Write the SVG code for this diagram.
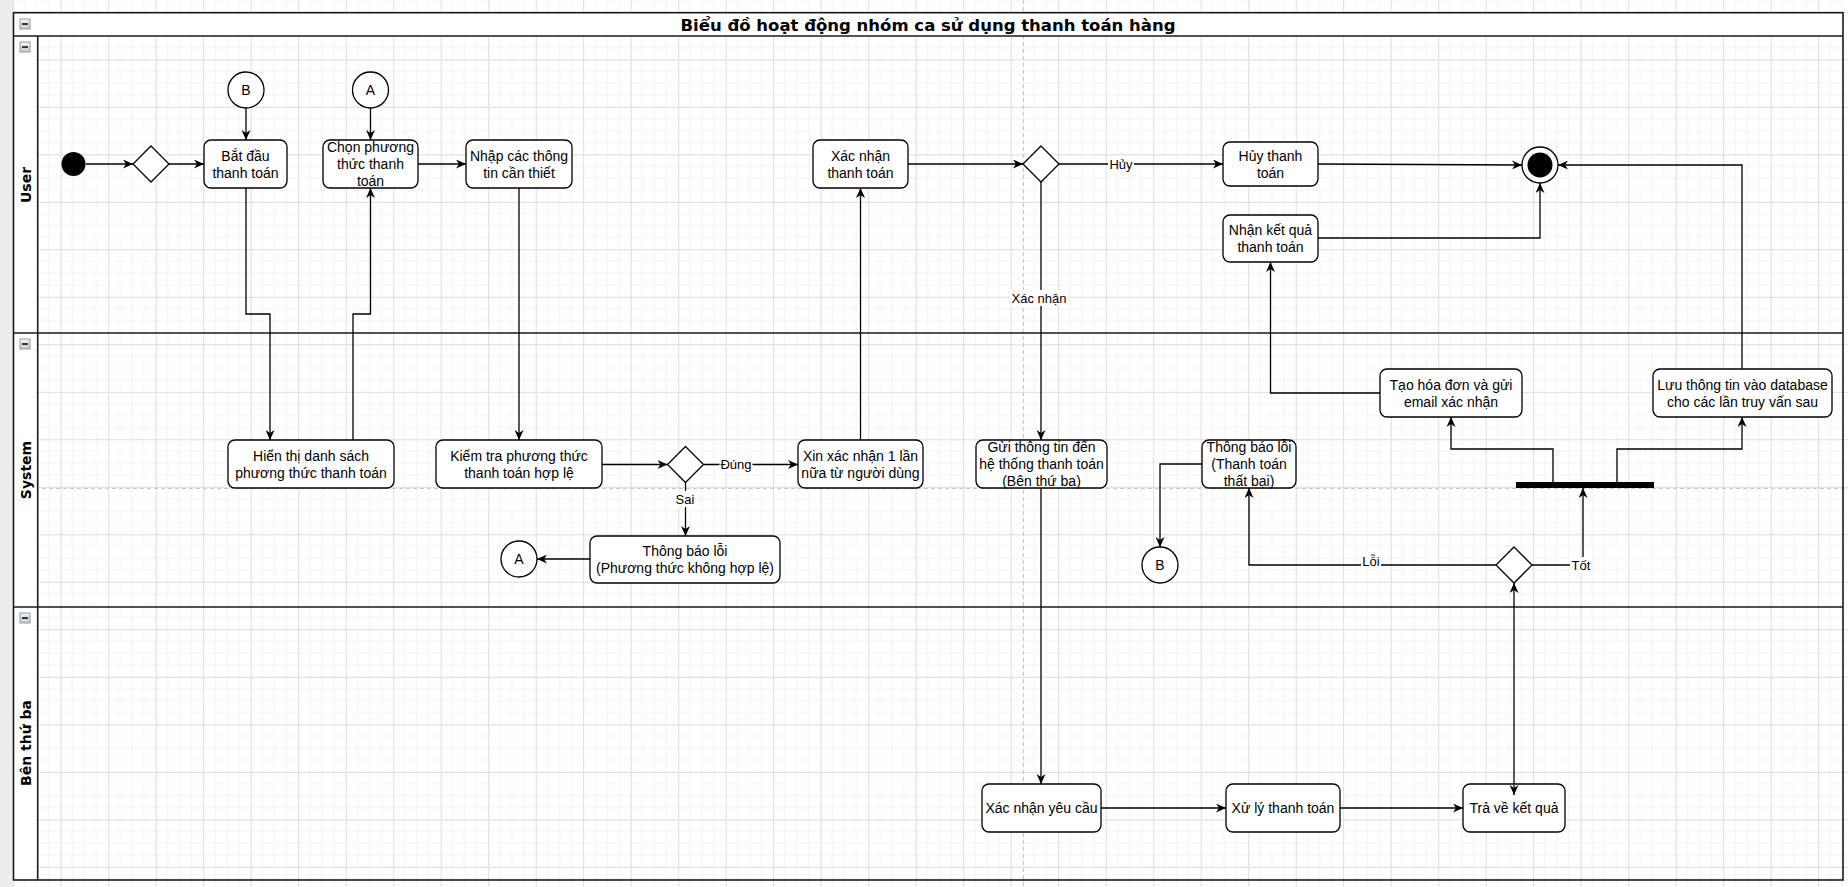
<svg xmlns="http://www.w3.org/2000/svg" width="1848" height="887" viewBox="0 0 1848 887">
<style>
.box{fill:#fff;stroke:#000;stroke-width:1.3}
.shape{fill:#fff;stroke:#000;stroke-width:1.3}
.t{font-family:"Liberation Sans",Arial,sans-serif;font-size:14px;fill:#000;text-anchor:middle}
.lbl{font-family:"Liberation Sans",Arial,sans-serif;font-size:13px;fill:#000;text-anchor:middle}
.lane{font-family:"DejaVu Sans",Verdana,sans-serif;font-size:14px;font-weight:bold;fill:#000;text-anchor:middle}
.title{font-family:"DejaVu Sans",Verdana,sans-serif;font-size:16.5px;font-weight:bold;fill:#000;text-anchor:middle}
.edge{fill:none;stroke:#000;stroke-width:1.3;marker-end:url(#arr)}
.pl{fill:none;stroke:#1a1a1a;stroke-width:1.6}
.lblbg{fill:#fff}
.icon{fill:url(#ig);stroke:#8a97a8;stroke-width:1}
</style>
<defs>
<pattern id="grid" patternUnits="userSpaceOnUse" x="13.2" y="11.8" width="47.5" height="47.5">
<path d="M11.875,0V47.5M23.75,0V47.5M35.625,0V47.5M0,11.875H47.5M0,23.75H47.5M0,35.625H47.5" stroke="#f2f2f2" stroke-width="1" fill="none"/>
<path d="M0.5,0V47.5M0,0.5H47.5" stroke="#dcdcdc" stroke-width="1" fill="none"/>
</pattern>
<linearGradient id="ig" x1="0" y1="0" x2="0" y2="1"><stop offset="0" stop-color="#f4f4f4"/><stop offset="1" stop-color="#c4c8cc"/></linearGradient>
<marker id="arr" viewBox="0 0 10 9" markerWidth="10" markerHeight="9" refX="10" refY="4.5" markerUnits="userSpaceOnUse" orient="auto-start-reverse">
<path d="M0,0 L10,4.5 L0,9 L3,4.5 Z" fill="#000"/>
</marker>
</defs>
<g id="background">
<rect x="0" y="0" width="1848" height="887" fill="#fff"/>
<rect x="0" y="0" width="1848" height="887" fill="url(#grid)"/>
<line x1="1023.5" y1="0" x2="1023.5" y2="887" stroke="#c8c8c8" stroke-width="1" stroke-dasharray="4,3"/>
<line x1="0" y1="488.5" x2="1848" y2="488.5" stroke="#c8c8c8" stroke-width="1" stroke-dasharray="4,3"/>
<rect x="0" y="0" width="13" height="887" fill="#ececec"/>
</g>
<g id="pool">
<rect x="13.5" y="12.7" width="1829.5" height="23.3" fill="#fff"/>
<rect x="13.5" y="36" width="24.2" height="844" fill="#fff"/>
<rect class="pl" x="13.5" y="12.7" width="1829.5" height="867.3"/>
<line class="pl" x1="13.5" y1="36" x2="1843" y2="36"/>
<line class="pl" x1="37.7" y1="36" x2="37.7" y2="880"/>
<line class="pl" x1="13.5" y1="333" x2="1843" y2="333"/>
<line class="pl" x1="13.5" y1="607" x2="1843" y2="607"/>
<text class="title" x="928" y="30.5">Biểu đồ hoạt động nhóm ca sử dụng thanh toán hàng</text>
<text class="lane" transform="translate(30.5,185) rotate(-90)" x="0" y="0">User</text>
<text class="lane" transform="translate(30.5,470) rotate(-90)" x="0" y="0">System</text>
<text class="lane" transform="translate(30.5,743) rotate(-90)" x="0" y="0">Bên thứ ba</text>
<rect class="icon" x="20" y="19" width="10" height="10"/><line x1="22" y1="24" x2="28" y2="24" stroke="#000" stroke-width="1.5"/>
<rect class="icon" x="20" y="42" width="10" height="10"/><line x1="22" y1="47" x2="28" y2="47" stroke="#000" stroke-width="1.5"/>
<rect class="icon" x="20" y="339" width="10" height="10"/><line x1="22" y1="344" x2="28" y2="344" stroke="#000" stroke-width="1.5"/>
<rect class="icon" x="20" y="613" width="10" height="10"/><line x1="22" y1="618" x2="28" y2="618" stroke="#000" stroke-width="1.5"/>
</g>
<g id="connectors">
<path class="edge" d="M86,164 L133,164"/>
<path class="edge" d="M169,164 L204,164"/>
<path class="edge" d="M246,108 L246,140"/>
<path class="edge" d="M370.5,108 L370.5,140"/>
<path class="edge" d="M418,164 L466,164"/>
<path class="edge" d="M246,188 L246,314 L270,314 L270,440"/>
<path class="edge" d="M353,440 L353,314 L370.5,314 L370.5,188"/>
<path class="edge" d="M519,188 L519,440"/>
<path class="edge" d="M602,464.5 L667.5,464.5"/>
<path class="edge" d="M703.5,464.5 L798,464.5"/>
<path class="edge" d="M685.5,482.5 L685.5,536"/>
<path class="edge" d="M590,559 L537,559"/>
<path class="edge" d="M860.5,440 L860.5,188"/>
<path class="edge" d="M908,164 L1023,164"/>
<path class="edge" d="M1059,164 L1223,164"/>
<path class="edge" d="M1041,182 L1041,440"/>
<path class="edge" d="M1318,164 L1522,165"/>
<path class="edge" d="M1318,238 L1540,238 L1540,183"/>
<path class="edge" d="M1041,488 L1041,784"/>
<path class="edge" d="M1101,808 L1226,808"/>
<path class="edge" d="M1340,808 L1463,808"/>
<path class="edge" style="marker-start:url(#arr)" d="M1514,795 L1514,583"/>
<path class="edge" d="M1532,565 L1583,565 L1583,488"/>
<path class="edge" d="M1496,565 L1249,565 L1249,488"/>
<path class="edge" d="M1202,464 L1160,464 L1160,547"/>
<path class="edge" d="M1553,482 L1553,449 L1451,449 L1451,417"/>
<path class="edge" d="M1617,482 L1617,449 L1742,449 L1742,417"/>
<path class="edge" d="M1380,393 L1270.5,393 L1270.5,262"/>
<path class="edge" d="M1742,369 L1742,165 L1558,165"/>
<rect class="lblbg" x="1108" y="156" width="26" height="16"/><text class="lbl" x="1121" y="168.5">Hủy</text>
<rect class="lblbg" x="1010" y="290" width="58" height="16"/><text class="lbl" x="1039" y="302.5">Xác nhận</text>
<rect class="lblbg" x="719.5" y="456.5" width="33" height="16"/><text class="lbl" x="736" y="469">Đúng</text>
<rect class="lblbg" x="674" y="491" width="22" height="16"/><text class="lbl" x="685" y="503.5">Sai</text>
<rect class="lblbg" x="1361" y="553" width="20" height="16"/><text class="lbl" x="1371" y="565.5">Lỗi</text>
<rect class="lblbg" x="1570" y="557" width="22" height="16"/><text class="lbl" x="1581" y="569.5">Tốt</text>
</g>
<g id="start"><circle cx="73.5" cy="164" r="12" fill="#000"/></g>
<g id="d1"><path class="shape" d="M151,146 L169,164 L151,182 L133,164 Z"/></g>
<g id="batdau"><rect class="box" x="204" y="140" width="83" height="48" rx="7"/><text class="t" x="245.5" y="160.5">Bắt đầu</text><text class="t" x="245.5" y="177.5">thanh toán</text></g>
<g id="connB1"><circle class="shape" cx="246" cy="90" r="18"/><text class="t" x="246" y="95">B</text></g>
<g id="connA1"><circle class="shape" cx="370.5" cy="90" r="18"/><text class="t" x="370.5" y="95">A</text></g>
<g id="chon"><rect class="box" x="323" y="140" width="95" height="48" rx="7"/><text class="t" x="370.5" y="152">Chọn phương</text><text class="t" x="370.5" y="169">thức thanh</text><text class="t" x="370.5" y="186">toán</text></g>
<g id="nhap"><rect class="box" x="466" y="140" width="106" height="48" rx="7"/><text class="t" x="519" y="160.5">Nhập các thông</text><text class="t" x="519" y="177.5">tin cần thiết</text></g>
<g id="xacnhantt"><rect class="box" x="813" y="140" width="95" height="48" rx="7"/><text class="t" x="860.5" y="160.5">Xác nhận</text><text class="t" x="860.5" y="177.5">thanh toán</text></g>
<g id="d3"><path class="shape" d="M1041,146 L1059,164 L1041,182 L1023,164 Z"/></g>
<g id="huy"><rect class="box" x="1223" y="142" width="95" height="44" rx="7"/><text class="t" x="1270.5" y="160.5">Hủy thanh</text><text class="t" x="1270.5" y="177.5">toán</text></g>
<g id="nhankq"><rect class="box" x="1223" y="215" width="95" height="47" rx="7"/><text class="t" x="1270.5" y="235">Nhận kết quả</text><text class="t" x="1270.5" y="252">thanh toán</text></g>
<g id="end"><circle class="shape" cx="1540" cy="165" r="18"/><circle cx="1540" cy="165" r="12.5" fill="#000"/></g>
<g id="hienthi"><rect class="box" x="228" y="440" width="166" height="48" rx="7"/><text class="t" x="311" y="460.5">Hiển thị danh sách</text><text class="t" x="311" y="477.5">phương thức thanh toán</text></g>
<g id="kiemtra"><rect class="box" x="436" y="440" width="166" height="48" rx="7"/><text class="t" x="519" y="460.5">Kiểm tra phương thức</text><text class="t" x="519" y="477.5">thanh toán hợp lệ</text></g>
<g id="d2"><path class="shape" d="M685.5,446.5 L703.5,464.5 L685.5,482.5 L667.5,464.5 Z"/></g>
<g id="xin"><rect class="box" x="798" y="440" width="125" height="48" rx="7"/><text class="t" x="860.5" y="460.5">Xin xác nhận 1 lần</text><text class="t" x="860.5" y="477.5">nữa từ người dùng</text></g>
<g id="tbl1"><rect class="box" x="590" y="536" width="190" height="47" rx="7"/><text class="t" x="685" y="556">Thông báo lỗi</text><text class="t" x="685" y="573">(Phương thức không hợp lệ)</text></g>
<g id="connA2"><circle class="shape" cx="519" cy="559" r="18"/><text class="t" x="519" y="564">A</text></g>
<g id="gui"><rect class="box" x="976" y="440" width="131" height="48" rx="7"/><text class="t" x="1041.5" y="452">Gửi thông tin đến</text><text class="t" x="1041.5" y="469">hệ thống thanh toán</text><text class="t" x="1041.5" y="486">(Bên thứ ba)</text></g>
<g id="tbl2"><rect class="box" x="1202" y="440" width="94" height="48" rx="7"/><text class="t" x="1249" y="452">Thông báo lỗi</text><text class="t" x="1249" y="469">(Thanh toán</text><text class="t" x="1249" y="486">thất bại)</text></g>
<g id="connB2"><circle class="shape" cx="1160" cy="565" r="18"/><text class="t" x="1160" y="570">B</text></g>
<g id="taohd"><rect class="box" x="1380" y="369" width="142" height="48" rx="7"/><text class="t" x="1451" y="389.5">Tạo hóa đơn và gửi</text><text class="t" x="1451" y="406.5">email xác nhận</text></g>
<g id="luu"><rect class="box" x="1653" y="369" width="179" height="48" rx="7"/><text class="t" x="1742.5" y="389.5">Lưu thông tin vào database</text><text class="t" x="1742.5" y="406.5">cho các lần truy vấn sau</text></g>
<g id="fork"><rect x="1516" y="482" width="138" height="6" fill="#000"/></g>
<g id="d4"><path class="shape" d="M1514,547 L1532,565 L1514,583 L1496,565 Z"/></g>
<g id="xnyc"><rect class="box" x="982" y="784" width="119" height="48" rx="7"/><text class="t" x="1041.5" y="813">Xác nhận yêu cầu</text></g>
<g id="xuly"><rect class="box" x="1226" y="784" width="114" height="48" rx="7"/><text class="t" x="1283" y="813">Xử lý thanh toán</text></g>
<g id="trave"><rect class="box" x="1463" y="784" width="102" height="48" rx="7"/><text class="t" x="1514" y="813">Trả về kết quả</text></g>
<path d="M1514,785 L1514,795" stroke="#000" stroke-width="1.3" marker-end="url(#arr)" fill="none"/>
</svg>
